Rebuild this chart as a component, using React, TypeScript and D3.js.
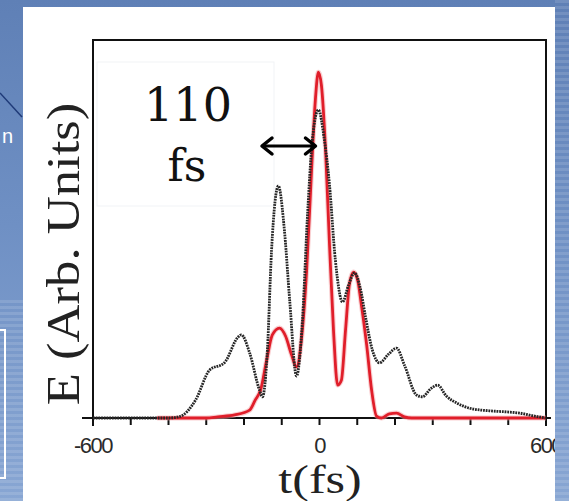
import React from "react";
import * as d3 from "d3";

// Measured (black dotted) field envelope: time (fs) and amplitude (arb.)
const blackT = [-600, -400, -370, -328, -291, -252, -215, -207, -185, -159, -151, -138, -127, -109, -93, -79, -61, -45, -32, -19, -3, 13, 26, 42, 61, 77, 93, 109, 122, 140, 159, 183, 204, 225, 257, 273, 294, 313, 336, 363, 397, 450, 498, 530, 570, 600];
const blackV = [0, 0, 0.004, 0.048, 0.127, 0.146, 0.215, 0.22, 0.172, 0.074, 0.056, 0.18, 0.444, 0.614, 0.497, 0.312, 0.111, 0.26, 0.532, 0.735, 0.815, 0.735, 0.622, 0.418, 0.307, 0.352, 0.384, 0.339, 0.267, 0.18, 0.146, 0.169, 0.185, 0.14, 0.061, 0.056, 0.077, 0.087, 0.058, 0.04, 0.026, 0.019, 0.016, 0.013, 0.005, 0];

// Transform-limited (red) field envelope
const redT = [-430, -300, -270, -225, -185, -170, -156, -140, -125, -106, -90, -74, -61, -48, -34, -21, -11, -3, 5, 16, 26, 37, 48, 58, 69, 79, 90, 101, 111, 125, 138, 151, 164, 185, 204, 225, 244, 600];
const redV = [0, 0, 0.003, 0.008, 0.021, 0.048, 0.074, 0.153, 0.22, 0.238, 0.217, 0.167, 0.135, 0.206, 0.392, 0.656, 0.841, 0.915, 0.881, 0.709, 0.471, 0.233, 0.087, 0.1, 0.233, 0.352, 0.386, 0.365, 0.299, 0.193, 0.074, 0.005, 0, 0.011, 0.013, 0.003, 0, 0];

const tickValues = [-600, -500, -400, -300, -200, -100, 0, 100, 200, 300, 400, 500, 600];
const tickLabels = [
  { v: -600, t: "-600" },
  { v: 0, t: "0" },
  { v: 600, t: "600" },
];
const annotationLines = ["110", "fs"];
const arrowSpan = [-155, -8];

export default function App() {
  const W = 569;
  const H = 501;
  const x = d3.scaleLinear().domain([-600, 600]).range([93, 546]);
  const y = d3.scaleLinear().domain([0, 1]).range([418, 40]);

  const line = d3
    .line<[number, number]>()
    .x((d) => x(d[0]))
    .y((d) => y(d[1]))
    .curve(d3.curveMonotoneX);

  const blackPath = line(blackT.map((t, i) => [t, blackV[i]] as [number, number])) || "";
  const redPath = line(redT.map((t, i) => [t, redV[i]] as [number, number])) || "";

  const ay = 146;
  const ax1 = x(arrowSpan[0]);
  const ax2 = x(arrowSpan[1]);

  return (
    <svg
      width={W}
      height={H}
      style={{ position: "absolute", left: 0, top: 0 }}
      xmlns="http://www.w3.org/2000/svg"
    >
      <defs>
        <linearGradient id="bgL" x1="0" y1="0" x2="0" y2="1">
          <stop offset="0" stopColor="#5f80b6" />
          <stop offset="0.45" stopColor="#6f90c4" />
          <stop offset="1" stopColor="#88a6d3" />
        </linearGradient>
        <pattern id="stripes" width="8" height="6" patternUnits="userSpaceOnUse">
          <rect width="8" height="3" fill="#ffffff" opacity="0.12" />
        </pattern>
      </defs>
      {/* slide background */}
      <rect x={0} y={0} width={W} height={H} fill="url(#bgL)" />
      <rect x={0} y={300} width={23} height={201} fill="url(#stripes)" />
      <line x1={0} y1={93} x2={22} y2={117} stroke="#1f3a78" strokeWidth={1.5} />
      <text x={2} y={143} fill="#ffffff" fontFamily="Liberation Sans, Arial, sans-serif" fontSize={20}>n</text>
      <path d="M0,330 H5 V478 H0" fill="none" stroke="#ffffff" strokeWidth={2} />

      {/* white panel */}
      <rect x={23} y={7} width={532} height={H - 7} fill="#ffffff" />
      <rect x={97} y={62} width={177} height={144} fill="#ffffff" stroke="#f1f3f6" strokeWidth={1} />

      {/* frame */}
      <path d={`M${x(-600)},${y(0) + 8} V${y(1)} H${x(600)} V${y(0) + 8}`} fill="none" stroke="#111" strokeWidth={2} />
      {/* axis */}
      <line x1={82} x2={551} y1={y(0)} y2={y(0)} stroke="#111" strokeWidth={2} />
      {tickValues.map((v) => (
        <line key={v} x1={x(v)} x2={x(v)} y1={y(0)} y2={y(0) + 7} stroke="#111" strokeWidth={2} />
      ))}
      {tickLabels.map((d) => (
        <text
          key={d.v}
          x={x(d.v)}
          y={453}
          textAnchor="middle"
          fill="#2a2a2a"
          fontFamily="Liberation Sans, Arial, sans-serif"
          fontSize={22}
          letterSpacing={-1.5}
        >
          {d.t}
        </text>
      ))}

      {/* curves */}
      <path d={redPath} fill="none" stroke="#f4a0a4" strokeWidth={5} opacity={0.5} />
      <path d={redPath} fill="none" stroke="#e01e2a" strokeWidth={2.8} />
      <path d={blackPath} fill="none" stroke="#262626" strokeWidth={2.8} strokeDasharray="1.8,0.9" />

      {/* annotation */}
      <text x={188} y={121} textAnchor="middle" fontFamily="DejaVu Serif, serif" fontSize={46} fill="#111">
        {annotationLines[0]}
      </text>
      <text x={187} y={181} textAnchor="middle" fontFamily="DejaVu Serif, serif" fontSize={44} fill="#111">
        {annotationLines[1]}
      </text>
      <line x1={ax1 + 2} x2={ax2 - 2} y1={ay} y2={ay} stroke="#000" strokeWidth={3} />
      <path d={`M${ax1 + 11},${ay - 8} L${ax1 + 1},${ay} L${ax1 + 11},${ay + 8}`} fill="none" stroke="#000" strokeWidth={3.5} strokeLinecap="round" strokeLinejoin="round" />
      <path d={`M${ax2 - 11},${ay - 8} L${ax2 - 1},${ay} L${ax2 - 11},${ay + 8}`} fill="none" stroke="#000" strokeWidth={3.5} strokeLinecap="round" strokeLinejoin="round" />

      {/* axis titles */}
      <text
        transform="translate(79,254) rotate(-90) scale(1.12,1)"
        textAnchor="middle"
        fontFamily="Liberation Serif, Times New Roman, serif"
        fontSize={47}
        fill="#222"
      >
        E (Arb. Units)
      </text>
      <text
        transform="translate(320,493) scale(1.25,1)"
        textAnchor="middle"
        fontFamily="Liberation Serif, Times New Roman, serif"
        fontSize={40}
        fill="#222"
      >
        t(fs)
      </text>

      {/* right slide band on top */}
      <rect x={555} y={0} width={14} height={H} fill="url(#bgL)" />
      <rect x={555} y={0} width={14} height={H} fill="url(#stripes)" />
    </svg>
  );
}
